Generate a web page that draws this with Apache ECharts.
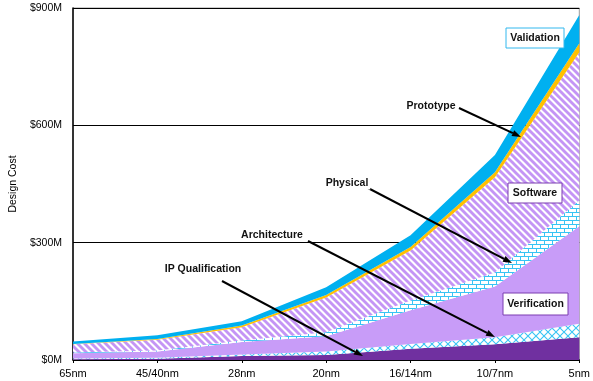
<!DOCTYPE html>
<html>
<head>
<meta charset="utf-8">
<script src="https://cdn.jsdelivr.net/npm/echarts@6/dist/echarts.min.js"></script>
<style>
  html, body { margin: 0; padding: 0; background: #fff; }
  #chart { width: 593px; height: 381px; }
</style>
</head>
<body>
<div id="chart"></div>
<script>
// Process nodes along the x axis
const nodes = ['65nm', '45/40nm', '28nm', '20nm', '16/14nm', '10/7nm', '5nm'];

// Design cost per phase, $M (stacked bottom to top)
const ipQualification = [2, 3, 10, 13, 29, 40, 58];
const architecture    = [2, 3, 4, 9, 12, 18, 35];
const verification    = [13, 16, 32, 39, 86, 130, 249];
const physical        = [2, 2, 4, 10, 25, 36, 66];
const software        = [21, 28, 34, 89, 128, 243, 379];
const prototype       = [1, 2, 4, 6, 9, 13, 23];
const validation      = [6, 9, 11, 20, 30, 44, 72];

// Value axis ticks
const costTicks = [0, 300, 600, 900];
const costTickLabels = ['$0M', '$300M', '$600M', '$900M'];

// Build repeating fill patterns on small canvases
function tile(size, draw) {
  const c = document.createElement('canvas');
  c.width = c.height = size;
  const g = c.getContext('2d');
  g.fillStyle = '#ffffff';
  g.fillRect(0, 0, size, size);
  draw(g, size);
  return { image: c, repeat: 'repeat' };
}

const stripeFill = tile(7, (g, s) => {
  g.strokeStyle = '#c495f5';
  g.lineWidth = 2.9;
  for (const o of [-s, 0, s]) {
    g.beginPath();
    g.moveTo(o - 1, -1);
    g.lineTo(o + s + 1, s + 1);
    g.stroke();
  }
});

const brickFill = tile(8, (g) => {
  g.fillStyle = '#38c4f4';
  g.fillRect(0, 0, 8, 1);
  g.fillRect(0, 4, 8, 1);
  g.fillRect(0, 0, 1, 4);
  g.fillRect(4, 4, 1, 4);
});

const diamondFill = tile(8, (g, s) => {
  g.strokeStyle = '#38c4f4';
  g.lineWidth = 1.1;
  g.beginPath();
  g.moveTo(-1, -1); g.lineTo(s + 1, s + 1);
  g.moveTo(s + 1, -1); g.lineTo(-1, s + 1);
  g.stroke();
});

function layer(name, data, fill) {
  return {
    name: name,
    type: 'line',
    stack: 'cost',
    data: data,
    symbol: 'none',
    smooth: false,
    silent: true,
    lineStyle: { width: 0, opacity: 0 },
    areaStyle: { color: fill, opacity: 1 }
  };
}

// Arrow from a label toward its layer
function arrow(x1, y1, x2, y2) {
  const ang = Math.atan2(y2 - y1, x2 - x1);
  const len = 9, half = 3.2;
  const bx = x2 - len * Math.cos(ang), by = y2 - len * Math.sin(ang);
  const nx = -Math.sin(ang), ny = Math.cos(ang);
  return [
    { type: 'line', z: 100, shape: { x1: x1, y1: y1, x2: bx, y2: by },
      style: { stroke: '#000', lineWidth: 2 } },
    { type: 'polygon', z: 100,
      shape: { points: [[x2, y2], [bx + nx * half, by + ny * half], [bx - nx * half, by - ny * half]] },
      style: { fill: '#000' } }
  ];
}

const labelFont = 'bold 10.5px "Liberation Sans", Arial, sans-serif';

function plainLabel(text, x, y) {
  return { type: 'text', z: 101, style: {
    text: text, x: x, y: y, align: 'center', verticalAlign: 'middle',
    font: labelFont, fill: '#111', backgroundColor: '#fff', padding: [1, 2]
  } };
}

function boxedLabel(text, x, y, w, h, border) {
  return [
    { type: 'rect', z: 100, shape: { x: x, y: y, width: w, height: h },
      style: { fill: '#fff', stroke: border, lineWidth: 1 } },
    { type: 'text', z: 101, style: {
      text: text, x: x + w / 2, y: y + h / 2 + 0.5, align: 'center', verticalAlign: 'middle',
      font: labelFont, fill: '#111' } }
  ];
}

const chart = echarts.init(document.getElementById('chart'), null, { renderer: 'canvas' });

chart.setOption({
  animation: false,
  backgroundColor: '#fff',
  textStyle: { fontFamily: '"Liberation Sans", Arial, sans-serif' },
  grid: { left: 68, right: 13, top: 8, bottom: 21, show: true, borderColor: '#9a9a9a', borderWidth: 1, backgroundColor: 'transparent' },
  xAxis: {
    type: 'category',
    data: nodes,
    boundaryGap: false,
    axisLine: { show: true, lineStyle: { color: '#000', width: 1.5 } },
    axisTick: { show: true, length: 3, lineStyle: { color: '#000' } },
    axisLabel: { color: '#000', fontSize: 11, margin: 8, fontFamily: '"Liberation Sans", Arial, sans-serif' },
    splitLine: { show: false }
  },
  yAxis: {
    type: 'value',
    min: costTicks[0],
    max: costTicks[costTicks.length - 1],
    interval: costTicks[1] - costTicks[0],
    name: 'Design Cost',
    nameLocation: 'middle',
    nameRotate: 90,
    nameGap: 46,
    nameTextStyle: { color: '#000', fontSize: 10.5, fontFamily: '"Liberation Sans", Arial, sans-serif' },
    axisLine: { show: true, lineStyle: { color: '#000', width: 1.5 } },
    axisTick: { show: false },
    axisLabel: {
      color: '#000', fontSize: 10.5, margin: 11,
      fontFamily: '"Liberation Sans", Arial, sans-serif',
      formatter: (v) => costTickLabels[costTicks.indexOf(v)]
    },
    splitLine: { show: true, lineStyle: { color: '#000', width: 1 } }
  },
  series: [
    layer('IP Qualification', ipQualification, '#7030a0'),
    layer('Architecture', architecture, diamondFill),
    layer('Verification', verification, '#c89cf8'),
    layer('Physical', physical, brickFill),
    layer('Software', software, stripeFill),
    layer('Prototype', prototype, '#ffc000'),
    layer('Validation', validation, '#00b0f0')
  ],
  graphic: [].concat(
    arrow(459, 108, 521, 137),
    arrow(368, 188, 512, 263),
    arrow(308, 241, 495, 337),
    arrow(222, 281, 363, 356),
    [plainLabel('Prototype', 431, 106),
     plainLabel('Physical', 347, 183),
     plainLabel('Architecture', 272, 235),
     plainLabel('IP Qualification', 203, 269)],
    boxedLabel('Validation', 506, 28, 58, 20, '#33b8ee'),
    boxedLabel('Software', 508, 183, 54, 20, '#7a3cb0'),
    boxedLabel('Verification', 503, 293, 65, 22, '#7a3cb0')
  )
});
</script>
</body>
</html>
